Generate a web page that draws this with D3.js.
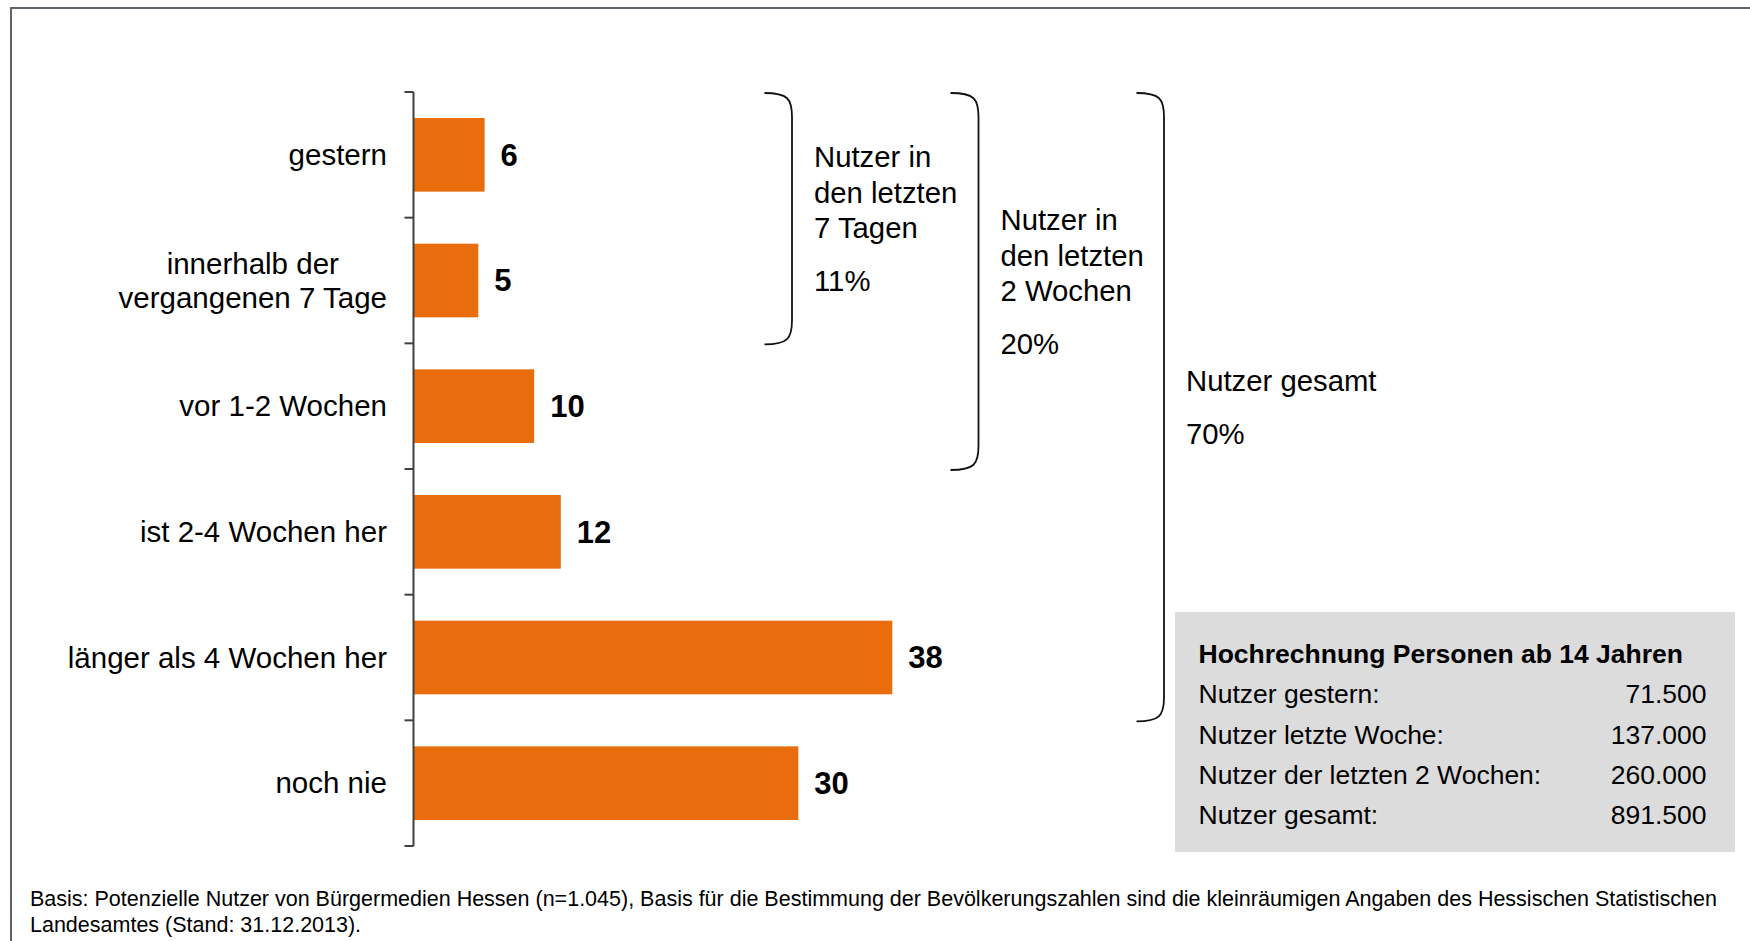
<!DOCTYPE html>
<html>
<head>
<meta charset="utf-8">
<script src="https://cdn.jsdelivr.net/npm/d3@7"></script>
<style>
  html, body { margin: 0; padding: 0; background: #fff; }
  svg { display: block; font-family: "Liberation Sans", Arial, sans-serif; }
</style>
</head>
<body>
<svg id="chart" width="1750" height="941"></svg>
<script>
// ---- data ----
const categories = ["gestern", "innerhalb der\nvergangenen 7 Tage", "vor 1-2 Wochen", "ist 2-4 Wochen her", "länger als 4 Wochen her", "noch nie"];
const values = [5.6, 5.1, 9.5, 11.6, 37.7, 30.3];
const valueLabels = ["6", "5", "10", "12", "38", "30"];

const braceLabels = [["Nutzer in", "den letzten", "7 Tagen"], ["Nutzer in", "den letzten", "2 Wochen"], ["Nutzer gesamt"]];
const bracePercents = ["11%", "20%", "70%"];
const braceLastIndex = [1, 2, 4];

const boxTitle = "Hochrechnung Personen ab 14 Jahren";
const boxRows = ["Nutzer gestern:", "Nutzer letzte Woche:", "Nutzer der letzten 2 Wochen:", "Nutzer gesamt:"];
const boxValues = ["71.500", "137.000", "260.000", "891.500"];

const footnote = ["Basis: Potenzielle Nutzer von Bürgermedien Hessen (n=1.045), Basis für die Bestimmung der Bevölkerungszahlen sind die kleinräumigen Angaben des Hessischen Statistischen",
                  "Landesamtes (Stand: 31.12.2013)."];

// ---- layout ----
const svg = d3.select("#chart");
const ORANGE = "#e96c0d";
const axisX = 413.5;

// frame
svg.append("path").attr("d", "M11,941 L11,8 L1750,8")
  .attr("fill", "none").attr("stroke", "#5b646b").attr("stroke-width", 2);

const y = d3.scaleBand().domain(categories).range([92, 846]).paddingInner(0.414).paddingOuter(0.207);
const x = d3.scaleLinear().domain([0, 40]).range([axisX, axisX + 508]);
const step = y.step();
const edge = c => y(c) - step * y.paddingInner() / 2;

// bars
svg.selectAll("rect.bar").data(categories).join("rect")
  .attr("class", "bar")
  .attr("x", x(0)).attr("y", d => y(d))
  .attr("width", (d, i) => x(values[i]) - x(0))
  .attr("height", y.bandwidth())
  .attr("fill", ORANGE);

// value labels
svg.selectAll("text.val").data(categories).join("text")
  .attr("class", "val")
  .attr("x", (d, i) => x(values[i]) + 16)
  .attr("y", d => y(d) + y.bandwidth() / 2)
  .attr("dy", "0.35em")
  .attr("font-size", 31).attr("font-weight", "bold").attr("fill", "#000")
  .text((d, i) => valueLabels[i]);

// axis line + ticks
const axisG = svg.append("g").attr("stroke", "#404040").attr("stroke-width", 2);
axisG.append("line").attr("x1", axisX).attr("x2", axisX).attr("y1", 92).attr("y2", 846);
const tickYs = categories.map(edge).concat([edge(categories[categories.length - 1]) + step]);
axisG.selectAll("line.tick").data(tickYs).join("line")
  .attr("class", "tick")
  .attr("x1", axisX - 9).attr("x2", axisX).attr("y1", d => d).attr("y2", d => d);

// category labels
const labelRight = 387;
const catFont = 29.5;
categories.forEach(c => {
  const lines = c.split("\n");
  const cy = y(c) + y.bandwidth() / 2;
  const lh = 33.5;
  const t = svg.append("text").attr("font-size", catFont).attr("fill", "#000");
  if (lines.length === 1) {
    t.attr("x", labelRight).attr("y", cy).attr("dy", "0.35em").attr("text-anchor", "end").text(lines[0]);
  } else {
    const tmp = svg.append("text").attr("font-size", catFont);
    const widths = lines.map(l => { tmp.text(l); return tmp.node().getComputedTextLength(); });
    tmp.remove();
    const w = d3.max(widths);
    const cx = labelRight - w / 2;
    t.attr("text-anchor", "middle");
    lines.forEach((l, i) => {
      t.append("tspan").attr("x", cx)
        .attr("y", cy + (i - (lines.length - 1) / 2) * lh)
        .attr("dy", "0.35em").text(l);
    });
  }
});

// braces
const braceX = [[764.5, 792], [950.5, 978.5], [1136.5, 1164]];
braceLastIndex.forEach((li, k) => {
  const y0 = edge(categories[0]) + 1;
  const y1 = edge(categories[li]) + step + 1;
  const [x0, xv] = braceX[k];
  const r = 24;
  const d = `M${x0},${y0} C${xv - 4},${y0} ${xv},${y0 + 6} ${xv},${y0 + r} L${xv},${y1 - r} C${xv},${y1 - 6} ${xv - 4},${y1} ${x0},${y1}`;
  svg.append("path").attr("d", d).attr("fill", "none").attr("stroke", "#111").attr("stroke-width", 1.8);

  const mid = (y0 + y1) / 2;
  const lh = 35.7, gap = 52.5;
  const n = braceLabels[k].length;
  const total = (n - 1) * lh + gap;
  const top = mid - total / 2;
  const tx = xv + 22;
  braceLabels[k].forEach((l, i) => {
    svg.append("text").attr("x", tx).attr("y", top + i * lh).attr("dy", "0.35em")
      .attr("font-size", 29.3).attr("fill", "#000").text(l);
  });
  svg.append("text").attr("x", tx).attr("y", top + (n - 1) * lh + gap).attr("dy", "0.35em")
    .attr("font-size", 29.3).attr("fill", "#000").text(bracePercents[k]);
});

// gray box
const bx0 = 1175, bx1 = 1735, by0 = 612, by1 = 852;
svg.append("rect").attr("x", bx0).attr("y", by0).attr("width", bx1 - bx0).attr("height", by1 - by0).attr("fill", "#dcdcdc");
svg.append("text").attr("x", 1198.5).attr("y", 654).attr("dy", "0.35em")
  .attr("font-size", 26.5).attr("font-weight", "bold").attr("fill", "#000").text(boxTitle);
boxRows.forEach((r, i) => {
  const yy = 694 + i * 40.3;
  svg.append("text").attr("x", 1198.5).attr("y", yy).attr("dy", "0.35em")
    .attr("font-size", 26.5).attr("fill", "#000").text(r);
  svg.append("text").attr("x", 1706.5).attr("y", yy).attr("dy", "0.35em").attr("text-anchor", "end")
    .attr("font-size", 26.5).attr("fill", "#000").text(boxValues[i]);
});

// footnote
footnote.forEach((l, i) => {
  svg.append("text").attr("x", 30).attr("y", 898.5 + i * 25.5).attr("dy", "0.35em")
    .attr("font-size", 21.5).attr("fill", "#000").text(l);
});
</script>
</body>
</html>
